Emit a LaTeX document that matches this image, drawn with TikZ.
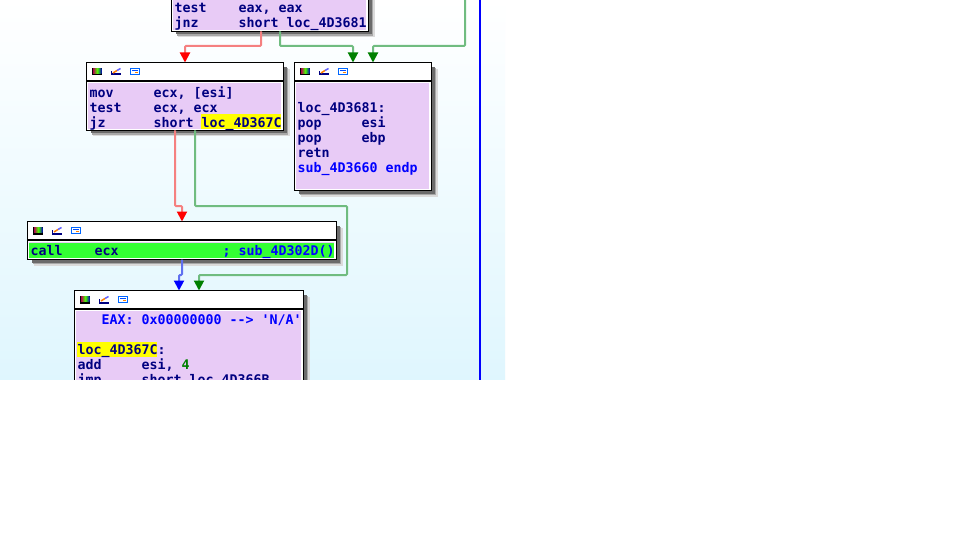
\documentclass[tikz,border=0pt]{standalone}
\usepackage{fontspec}
\usetikzlibrary{arrows.meta}
\newfontfamily\idafont{DejaVu Sans Mono}
\definecolor{bodyc}{HTML}{E8CBF6}
\definecolor{navyc}{HTML}{000080}
\definecolor{bluec}{HTML}{0000FF}
\definecolor{greenc}{HTML}{008000}
\definecolor{hlgreen}{HTML}{33FF33}
\definecolor{hlyellow}{HTML}{FFFF00}
\definecolor{bgbottom}{HTML}{DFF6FE}
\definecolor{linered}{HTML}{F58080}
\definecolor{linegreen}{HTML}{70BC80}
\definecolor{lineblue}{HTML}{6070F0}
\tikzset{
  asmtext/.style={anchor=base west,yshift=-0.7pt,inner sep=0pt,outer sep=0pt,font=\idafont\bfseries\fontsize{13.29}{15}\selectfont,text=navyc},
  hl/.style={fill=#1,draw=none},
  boxn/.style={draw=black,line width=1pt,fill=white,anchor=north west,inner sep=0pt,outer sep=0pt},
  shadowa/.style={fill=black!14,draw=none},
  shadowb/.style={fill=black!34,draw=none},
  shadowc/.style={fill=black!58,draw=none},
  flow/.style={line width=2pt,rounded corners=1pt},
  fred/.style={flow,draw=linered,-{Triangle[length=10pt,width=10pt,color=red]}},
  fgreen/.style={flow,draw=linegreen,-{Triangle[length=10pt,width=10pt,color=greenc]}},
  fblue/.style={flow,draw=lineblue,-{Triangle[length=10pt,width=10pt,color=bluec]}},
}
% #1 name, #2 x1, #3 y1, #4 x2, #5 y2, #6 separator y
\newcommand{\idabox}[6]{%
  \fill[shadowa] (#2+6,#3+6) rectangle (#4+6.5,#5+6.5);
  \fill[shadowb] (#2+5,#3+5) rectangle (#4+5,#5+5);
  \fill[shadowc] (#2+4,#3+4) rectangle (#4+3.5,#5+3.5);
  \pgfmathsetmacro{\bw}{#4-#2+1}\pgfmathsetmacro{\bh}{#5-#3+1}
  \node[boxn,minimum width=\bw pt,minimum height=\bh pt] (#1) at (#2-0.5,#3-0.5) {};
  \fill[bodyc] (#2+1,#6+2) rectangle (#4-2,#5-1);
  \draw[line width=2pt,black] (#2,#6) -- (#4,#6);
}
% title icons; #1 left x of the box, #2 top y of the box
\newcommand{\idaicons}[2]{%
  \begin{scope}[shift={(#1,#2)}]
    \fill[black] (5,5) rectangle (15,12.5);
    \shade[left color=red!70!blue,right color=blue!70!black,middle color=green!70!yellow] (6,5.5) rectangle (14.5,10.5);
    \fill[navyc] (24,10.5) rectangle (34,12.5);
    \draw[navyc,line width=1pt] (24.5,8) -- (24.5,12);
    \draw[orange,line width=1.5pt] (26,10) -- (30,7.5);
    \draw[bluec!60!white,line width=1.5pt] (30,7.5) -- (33.5,5.5);
    \fill[white] (43,5) rectangle (53,12);
    \draw[bluec!60!cyan,line width=1pt] (43.5,5.5) rectangle (52.5,11.5);
    \fill[bluec!70!cyan] (45,7) rectangle (51,8);
    \fill[orange] (48,9) rectangle (51,10);
  \end{scope}
}
\newcommand{\asm}[4]{\node[asmtext] (#1) at (#2,#3) {#4};}
\begin{document}
\begin{tikzpicture}[x=1pt,y=-1pt]
\useasboundingbox (0,0) rectangle (960,540);
\fill[white] (0,0) rectangle (960,540);
\begin{scope}
\clip (0,0) rectangle (505,379.5);
\shade[top color=white,bottom color=bgbottom] (0,0) rectangle (505,380);
\draw[bluec,line width=2pt] (480,0) -- (480,380);

% top block
\idabox{blocktop}{172}{-30}{368}{31}{-12}
\asm{t1}{174.5}{12}{test~~~~eax,~eax}
\asm{t2}{174.5}{27}{jnz~~~~~short~loc\_4D3681}

% left block
\idabox{blockleft}{87}{63}{283}{130}{81}
\idaicons{87}{63}
\fill[hl=hlyellow] (201,114) rectangle (281,129);
\asm{l1}{89.5}{97}{mov~~~~~ecx,~[esi]}
\asm{l2}{89.5}{112}{test~~~~ecx,~ecx}
\asm{l3}{89.5}{127}{jz~~~~~~short~loc\_4D367C}

% right block
\idabox{blockright}{295}{63}{431}{190}{81}
\idaicons{295}{63}
\asm{r1}{297.5}{112}{loc\_4D3681:}
\asm{r2}{297.5}{127}{pop~~~~~esi}
\asm{r3}{297.5}{142}{pop~~~~~ebp}
\asm{r4}{297.5}{157}{retn}
\node[asmtext,text=bluec] (r5) at (297.5,172) {sub\_4D3660~endp};

% call block
\idabox{blockcall}{28}{222}{336}{259}{240}
\idaicons{28}{222}
\fill[hl=hlgreen] (29,243) rectangle (334,258);
\asm{c1}{30.5}{255}{call~~~~ecx}
\node[asmtext,text=bluec] (c2) at (222.5,255) {;~sub\_4D302D()};

% lower block
\idabox{blocklow}{75}{291}{303}{420}{309}
\idaicons{75}{291}
\fill[hl=hlyellow] (77,342) rectangle (157,357);
\node[asmtext,text=bluec] (m1) at (101.5,324) {EAX:~0x00000000~-{}->~'N/A'};
\asm{m2}{77.5}{354}{loc\_4D367C:}
\asm{m3}{77.5}{369}{add~~~~~esi,~\textcolor{greenc}{4}}
\asm{m4}{77.5}{384}{jmp~~~~~short~loc\_4D366B}

% connectors
\coordinate (topfree) at (465,-2);
\draw[fred] (blocktop.south -| 261,0) -- (261,46) -- (185,46) -- (blockleft.north -| 185,0);
\draw[fgreen] (blocktop.south -| 280,0) -- (280,46) -- (353,46) -- (blockright.north -| 353,0);
\draw[fgreen] (topfree) -- (465,46) -- (373,46) -- (blockright.north -| 373,0);
\draw[fred] (blockleft.south -| 175,0) -- (175,206) -- (182,206) -- (blockcall.north -| 182,0);
\draw[fgreen] (blockleft.south -| 195,0) -- (195,206) -- (347,206) -- (347,275) -- (199,275) -- (blocklow.north -| 199,0);
\draw[fblue] (blockcall.south -| 182,0) -- (182,275) -- (179,275) -- (blocklow.north -| 179,0);
\end{scope}
\end{tikzpicture}
\end{document}
